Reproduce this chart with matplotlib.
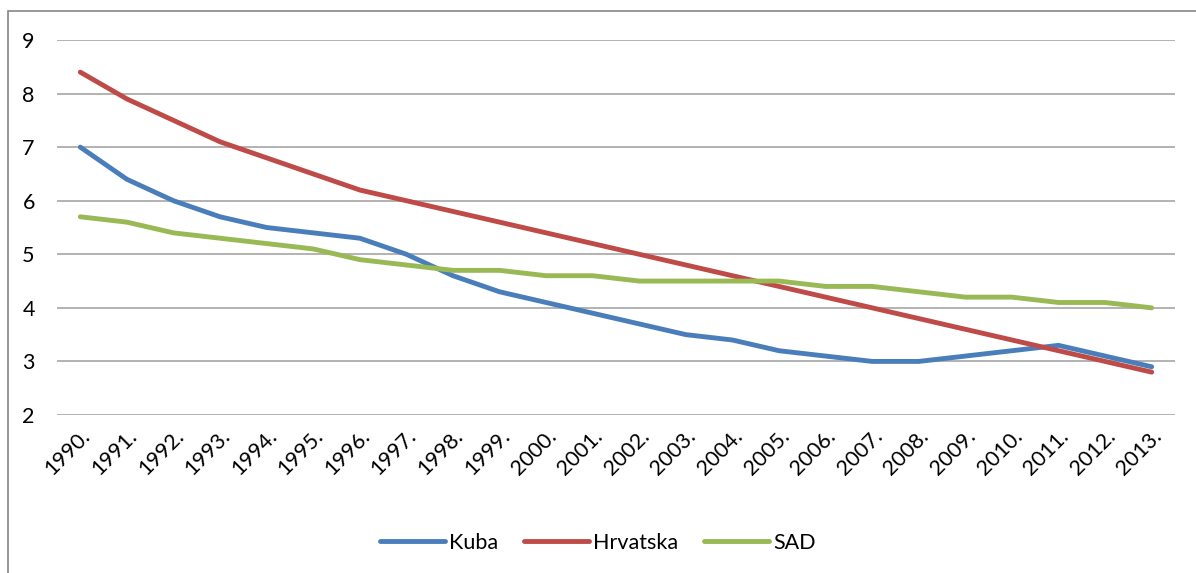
import matplotlib.pyplot as plt
from matplotlib.patches import Rectangle

plt.rcParams["font.family"] = ["Lato", "DejaVu Sans"]

years = [f"{y}." for y in range(1990, 2014)]
kuba = [7.0, 6.4, 6.0, 5.7, 5.5, 5.4, 5.3, 5.0, 4.6, 4.3, 4.1, 3.9,
        3.7, 3.5, 3.4, 3.2, 3.1, 3.0, 3.0, 3.1, 3.2, 3.3, 3.1, 2.9]
hrvatska = [8.4, 7.9, 7.5, 7.1, 6.8, 6.5, 6.2, 6.0, 5.8, 5.6, 5.4, 5.2,
            5.0, 4.8, 4.6, 4.4, 4.2, 4.0, 3.8, 3.6, 3.4, 3.2, 3.0, 2.8]
sad = [5.7, 5.6, 5.4, 5.3, 5.2, 5.1, 4.9, 4.8, 4.7, 4.7, 4.6, 4.6,
       4.5, 4.5, 4.5, 4.5, 4.4, 4.4, 4.3, 4.2, 4.2, 4.1, 4.1, 4.0]

fig = plt.figure(figsize=(11.96, 5.73), dpi=100)
ax = fig.add_axes([57 / 1196, 1 - 415 / 573, 1118 / 1196, 375 / 573])

# outer chart border
fig.patches.append(Rectangle((8 / 1196, -0.01), 1.2, 1 - 11 / 573 + 0.01,
                             transform=fig.transFigure, fill=False,
                             edgecolor="#868686", linewidth=1.2))

x = range(len(years))
ax.plot(x, kuba, color="#4a7ebb", linewidth=3.5, label="Kuba", solid_capstyle="round")
ax.plot(x, hrvatska, color="#be4b48", linewidth=3.5, label="Hrvatska", solid_capstyle="round")
ax.plot(x, sad, color="#98b954", linewidth=3.5, label="SAD", solid_capstyle="round")

ax.set_xlim(-0.5, len(years) - 0.5)
ax.set_ylim(2, 9)
ax.set_yticks(range(2, 10))
ax.yaxis.grid(True, color="#a6a6a6", linewidth=1.2)
ax.set_axisbelow(True)
for s in ax.spines.values():
    s.set_visible(False)
ax.tick_params(axis="both", length=0, labelsize=15.5)
ax.tick_params(axis="y", pad=16)
ax.set_xticks(list(x))
ax.set_xticklabels(years, rotation=45, ha="right", rotation_mode="anchor")
ax.tick_params(axis="x", pad=8)

fig.legend(loc="center", bbox_to_anchor=(0.5, 1 - 543 / 573), ncol=3,
           frameon=False, fontsize=15.5, handlelength=3.0, columnspacing=1.2,
           handletextpad=0.2)

fig.savefig("out.png", dpi=100)
